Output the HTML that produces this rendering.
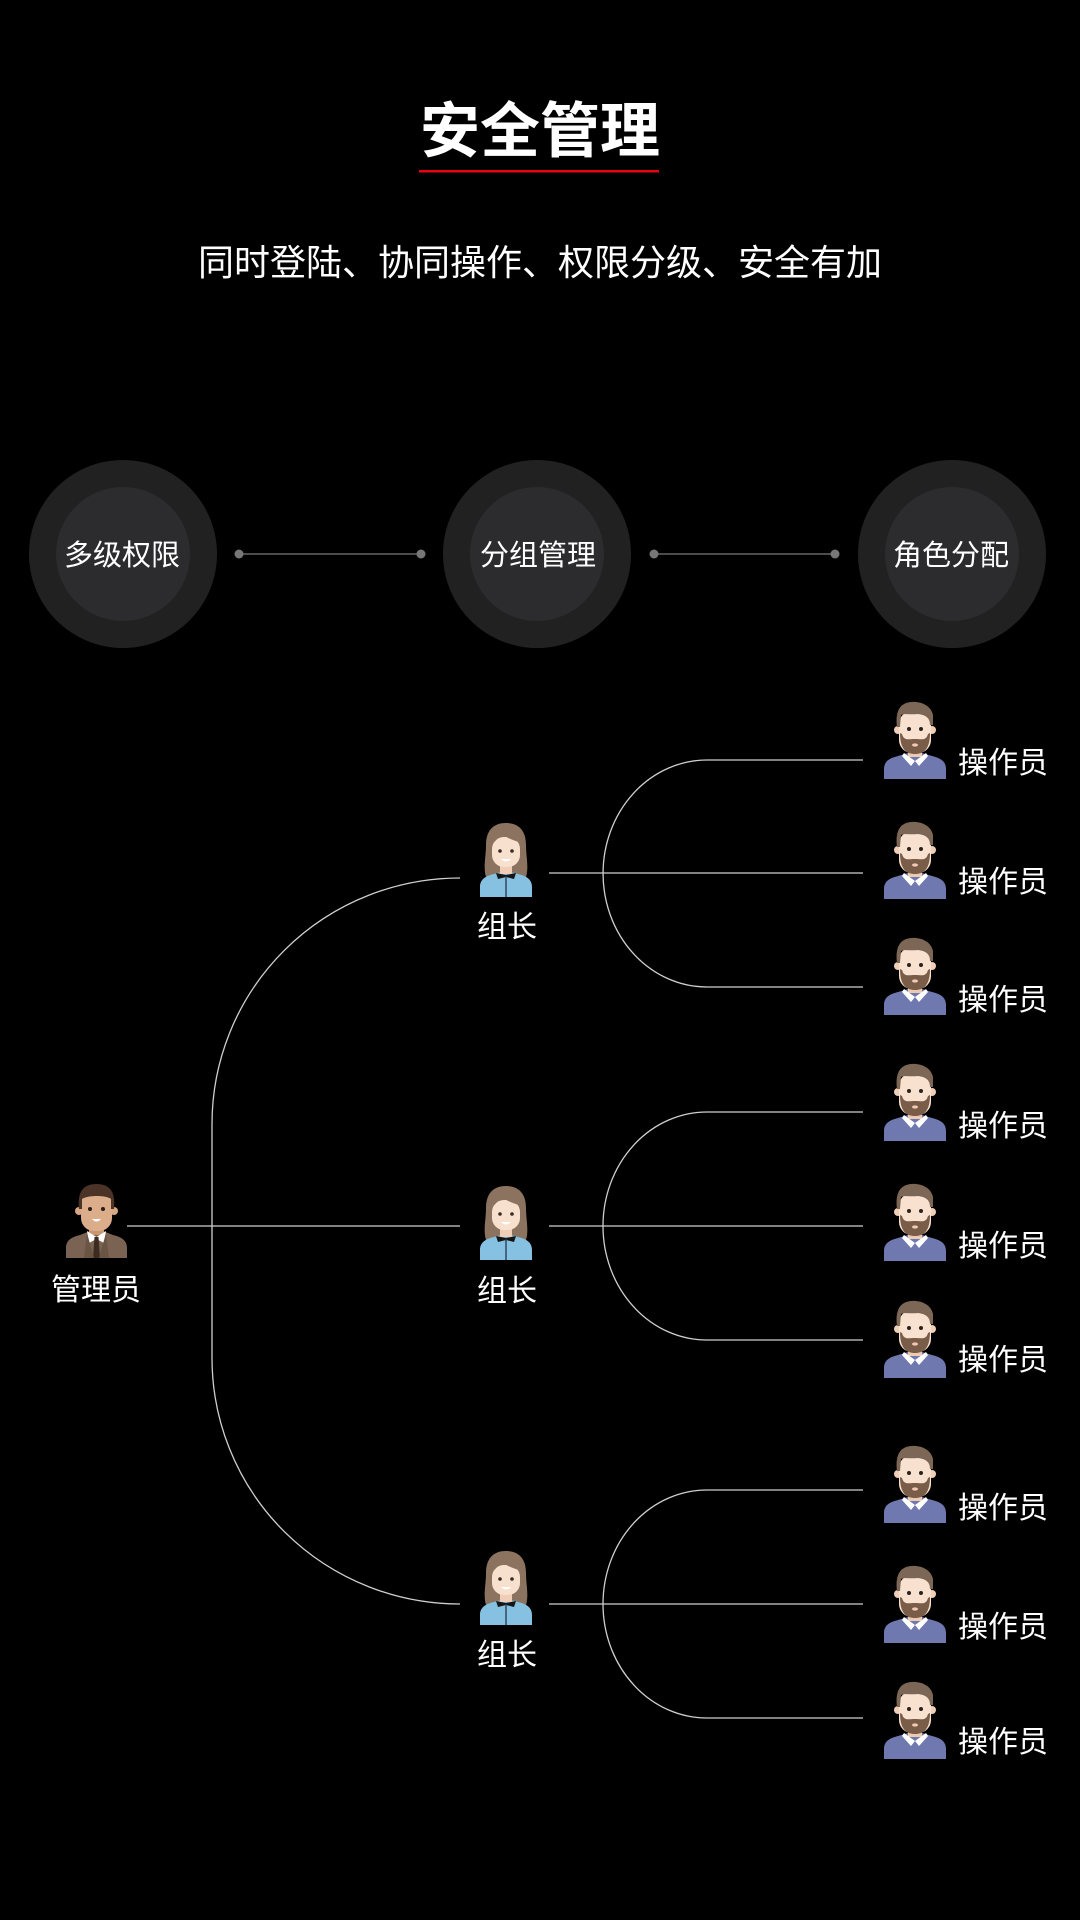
<!DOCTYPE html>
<html><head><meta charset="utf-8"><style>
html,body{margin:0;padding:0;background:#000;}
svg{display:block;}
text{font-family:"Liberation Sans","Noto Sans CJK SC","WenQuanYi Zen Hei",sans-serif;fill:#fff;}
</style></head><body>
<svg width="1080" height="1920" viewBox="0 0 1080 1920" xmlns="http://www.w3.org/2000/svg">
<defs>
<symbol id="op" viewBox="0 0 62 76" overflow="visible">
  <path d="M0,76 V66 C0,58 6,55 14,53 L24,50 H38 L48,53 C56,55 62,58 62,66 V76 Z" fill="#6f79b0"/>
  <rect x="24" y="42" width="14" height="12" fill="#eccbb2"/>
  <path d="M20,50 L31,58 L27,63 L18,53 Z" fill="#fff"/>
  <path d="M42,50 L31,58 L35,63 L44,53 Z" fill="#fff"/>
  <circle cx="14" cy="27" r="4" fill="#f0cfb8"/>
  <circle cx="48" cy="27" r="4" fill="#f0cfb8"/>
  <rect x="15" y="8" width="32" height="42" rx="13" fill="#f8e1cf"/>
  <path d="M13,24 C11,8 16,0 27,-1 C36,-2 47,2 49,12 L49,22 L46,22 C46,15 42,12 34,11 C26,12 20,10 17,12 L16,24 Z" fill="#7c6655"/>
  <path d="M16,30 C16,46 22,51 31,51 C40,51 46,46 46,30 L44,31 C42,38 38,36 31,36 C24,36 20,38 18,31 Z" fill="#7a5d49"/>
  <ellipse cx="31" cy="42" rx="3" ry="1.6" fill="#f3c9b5"/>
  <circle cx="25" cy="26" r="2" fill="#2b2220"/>
  <circle cx="37" cy="26" r="2" fill="#2b2220"/>
</symbol>
<symbol id="fm" viewBox="0 0 52 74" overflow="visible">
  <path d="M26,0 C12,0 6,9 6,22 C6,34 3,44 6,54 L46,54 C49,44 46,34 46,22 C46,9 40,0 26,0 Z" fill="#8b735f"/>
  <path d="M0,74 V64 C0,56 6,53 14,51 L21,49 H31 L38,51 C46,53 52,56 52,64 V74 Z" fill="#86c1e2"/>
  <rect x="20" y="40" width="12" height="11" fill="#efcdb6"/>
  <path d="M16,50 L26,52 L36,50 L34,56 L26,54 L18,56 Z" fill="#151515"/>
  <rect x="25.3" y="53" width="1.4" height="21" fill="#2a4050"/>
  <rect x="12" y="14" width="28" height="30" rx="12" fill="#f8e0cf"/>
  <path d="M10,22 C12,10 18,6 26,6 C34,6 40,11 42,20 C36,18 28,16 20,10 C18,16 14,20 10,22 Z" fill="#8b735f"/>
  <circle cx="20" cy="28" r="1.8" fill="#3a2a22"/>
  <circle cx="32" cy="28" r="1.8" fill="#3a2a22"/>
  <path d="M21,36 Q26,41 31,36 Z" fill="#fff"/>
</symbol>
<symbol id="ad" viewBox="0 0 61 75" overflow="visible">
  <path d="M0,75 V65 C0,57 6,54 14,52 L24,48 H37 L47,52 C55,54 61,57 61,65 V75 Z" fill="#7a6352"/>
  <rect x="23" y="42" width="15" height="10" fill="#c9976f"/>
  <path d="M21,48 L30.5,54 L40,48 L38,60 L30.5,56 L23,60 Z" fill="#fff"/>
  <path d="M28.5,54 H32.5 L34,75 H27 Z" fill="#3d2b20"/>
  <path d="M21,50 L28,75 L18,75 Z" fill="#6a5444"/>
  <path d="M40,50 L33,75 L43,75 Z" fill="#6a5444"/>
  <circle cx="13" cy="28" r="4" fill="#d7a683"/>
  <circle cx="48" cy="28" r="4" fill="#d7a683"/>
  <rect x="15" y="8" width="31" height="40" rx="13" fill="#dcad8b"/>
  <path d="M13,26 C11,8 18,1 30.5,1 C43,1 50,8 48,26 L45,26 L45,16 C40,12 22,12 16,16 L16,26 Z" fill="#4b3427"/>
  <circle cx="24" cy="26" r="2" fill="#2a1d16"/>
  <circle cx="37" cy="26" r="2" fill="#2a1d16"/>
  <path d="M26,36 Q30.5,41 35,36 Z" fill="#fff"/>
</symbol>
</defs>

<!-- Title -->
<text x="540" y="152" text-anchor="middle" font-size="60" font-weight="bold">安全管理</text>
<rect x="419" y="170" width="240" height="2.5" fill="#e60012"/>
<text x="540" y="275" text-anchor="middle" font-size="36">同时登陆、协同操作、权限分级、安全有加</text>

<!-- Circles row -->
<circle cx="123" cy="554" r="94" fill="#212121"/>
<circle cx="123" cy="554" r="67" fill="#2c2c2e"/>
<circle cx="537" cy="554" r="94" fill="#212121"/>
<circle cx="537" cy="554" r="67" fill="#2c2c2e"/>
<circle cx="952" cy="554" r="94" fill="#212121"/>
<circle cx="952" cy="554" r="67" fill="#2c2c2e"/>
<text x="122" y="565" text-anchor="middle" font-size="29">多级权限</text>
<text x="538" y="565" text-anchor="middle" font-size="29">分组管理</text>
<text x="951" y="565" text-anchor="middle" font-size="29">角色分配</text>
<line x1="239" y1="554" x2="421" y2="554" stroke="#666" stroke-width="1.5"/>
<line x1="654" y1="554" x2="835" y2="554" stroke="#666" stroke-width="1.5"/>
<circle cx="239" cy="554" r="4.5" fill="#777"/>
<circle cx="421" cy="554" r="4.5" fill="#777"/>
<circle cx="654" cy="554" r="4.5" fill="#777"/>
<circle cx="835" cy="554" r="4.5" fill="#777"/>

<!-- Tree lines -->
<g fill="none" stroke="#cfcfcf" stroke-width="1.3">
  <path d="M460,878 A248,246 0 0 0 212,1124 V1358 A248,246 0 0 0 460,1604"/>
  <path d="M127,1226 H460"/>
  <path d="M863,760 H707 A104,113.5 0 0 0 707,987 H863"/>
  <path d="M549,873 H863"/>
  <path d="M863,1112 H707 A104,114 0 0 0 707,1340 H863"/>
  <path d="M549,1226 H863"/>
  <path d="M863,1490 H707 A104,114 0 0 0 707,1718 H863"/>
  <path d="M549,1604 H863"/>
</g>

<!-- Admin -->
<use href="#ad" x="66" y="1183" width="61" height="75"/>
<text x="96" y="1300" text-anchor="middle" font-size="30">管理员</text>

<!-- Leaders -->
<use href="#fm" x="480" y="823" width="52" height="74"/>
<text x="507" y="937" text-anchor="middle" font-size="30">组长</text>
<use href="#fm" x="480" y="1186" width="52" height="74"/>
<text x="507" y="1301" text-anchor="middle" font-size="30">组长</text>
<use href="#fm" x="480" y="1551" width="52" height="74"/>
<text x="507" y="1665" text-anchor="middle" font-size="30">组长</text>

<!-- Operators -->
<use href="#op" x="884" y="703" width="62" height="76"/>
<text x="1003" y="773" text-anchor="middle" font-size="30">操作员</text>
<use href="#op" x="884" y="823" width="62" height="76"/>
<text x="1003" y="892" text-anchor="middle" font-size="30">操作员</text>
<use href="#op" x="884" y="939" width="62" height="76"/>
<text x="1003" y="1010" text-anchor="middle" font-size="30">操作员</text>

<use href="#op" x="884" y="1065" width="62" height="76"/>
<text x="1003" y="1136" text-anchor="middle" font-size="30">操作员</text>
<use href="#op" x="884" y="1185" width="62" height="76"/>
<text x="1003" y="1256" text-anchor="middle" font-size="30">操作员</text>
<use href="#op" x="884" y="1302" width="62" height="76"/>
<text x="1003" y="1370" text-anchor="middle" font-size="30">操作员</text>

<use href="#op" x="884" y="1447" width="62" height="76"/>
<text x="1003" y="1518" text-anchor="middle" font-size="30">操作员</text>
<use href="#op" x="884" y="1567" width="62" height="76"/>
<text x="1003" y="1637" text-anchor="middle" font-size="30">操作员</text>
<use href="#op" x="884" y="1683" width="62" height="76"/>
<text x="1003" y="1752" text-anchor="middle" font-size="30">操作员</text>
</svg>
</body></html>
